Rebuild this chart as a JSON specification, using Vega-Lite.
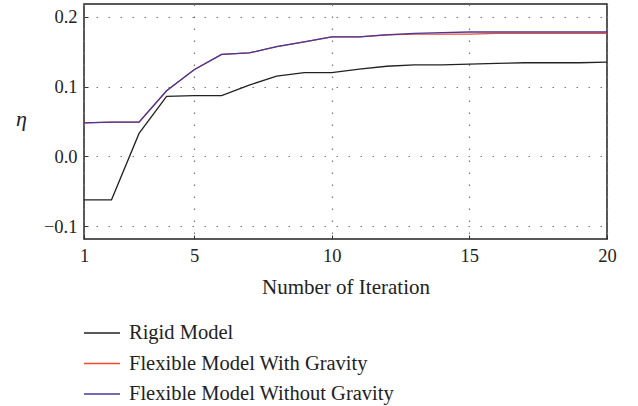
{
  "$schema": "https://vega.github.io/schema/vega-lite/v6.json",
  "width": 523,
  "height": 235,
  "autosize": {"type": "none"},
  "padding": {"left": 84, "top": 4, "right": 31, "bottom": 167},
  "background": "white",
  "config": {
    "font": "Liberation Serif",
    "view": {"stroke": "#222", "strokeWidth": 1.5}
  },
  "data": {
    "values": [
      {"iter": 1, "eta": -0.062, "model": "Rigid Model"},
      {"iter": 2, "eta": -0.062, "model": "Rigid Model"},
      {"iter": 3, "eta": 0.033, "model": "Rigid Model"},
      {"iter": 4, "eta": 0.086, "model": "Rigid Model"},
      {"iter": 5, "eta": 0.087, "model": "Rigid Model"},
      {"iter": 6, "eta": 0.087, "model": "Rigid Model"},
      {"iter": 7, "eta": 0.102, "model": "Rigid Model"},
      {"iter": 8, "eta": 0.115, "model": "Rigid Model"},
      {"iter": 9, "eta": 0.120, "model": "Rigid Model"},
      {"iter": 10, "eta": 0.120, "model": "Rigid Model"},
      {"iter": 11, "eta": 0.125, "model": "Rigid Model"},
      {"iter": 12, "eta": 0.129, "model": "Rigid Model"},
      {"iter": 13, "eta": 0.131, "model": "Rigid Model"},
      {"iter": 14, "eta": 0.131, "model": "Rigid Model"},
      {"iter": 15, "eta": 0.132, "model": "Rigid Model"},
      {"iter": 16, "eta": 0.133, "model": "Rigid Model"},
      {"iter": 17, "eta": 0.134, "model": "Rigid Model"},
      {"iter": 18, "eta": 0.134, "model": "Rigid Model"},
      {"iter": 19, "eta": 0.134, "model": "Rigid Model"},
      {"iter": 20, "eta": 0.135, "model": "Rigid Model"},
      {"iter": 1, "eta": 0.048, "model": "Flexible Model With Gravity"},
      {"iter": 2, "eta": 0.049, "model": "Flexible Model With Gravity"},
      {"iter": 3, "eta": 0.049, "model": "Flexible Model With Gravity"},
      {"iter": 4, "eta": 0.094, "model": "Flexible Model With Gravity"},
      {"iter": 5, "eta": 0.124, "model": "Flexible Model With Gravity"},
      {"iter": 6, "eta": 0.146, "model": "Flexible Model With Gravity"},
      {"iter": 7, "eta": 0.148, "model": "Flexible Model With Gravity"},
      {"iter": 8, "eta": 0.157, "model": "Flexible Model With Gravity"},
      {"iter": 9, "eta": 0.164, "model": "Flexible Model With Gravity"},
      {"iter": 10, "eta": 0.171, "model": "Flexible Model With Gravity"},
      {"iter": 11, "eta": 0.171, "model": "Flexible Model With Gravity"},
      {"iter": 12, "eta": 0.174, "model": "Flexible Model With Gravity"},
      {"iter": 13, "eta": 0.175, "model": "Flexible Model With Gravity"},
      {"iter": 14, "eta": 0.175, "model": "Flexible Model With Gravity"},
      {"iter": 15, "eta": 0.175, "model": "Flexible Model With Gravity"},
      {"iter": 16, "eta": 0.176, "model": "Flexible Model With Gravity"},
      {"iter": 17, "eta": 0.176, "model": "Flexible Model With Gravity"},
      {"iter": 18, "eta": 0.176, "model": "Flexible Model With Gravity"},
      {"iter": 19, "eta": 0.176, "model": "Flexible Model With Gravity"},
      {"iter": 20, "eta": 0.176, "model": "Flexible Model With Gravity"},
      {"iter": 1, "eta": 0.048, "model": "Flexible Model Without Gravity"},
      {"iter": 2, "eta": 0.049, "model": "Flexible Model Without Gravity"},
      {"iter": 3, "eta": 0.049, "model": "Flexible Model Without Gravity"},
      {"iter": 4, "eta": 0.094, "model": "Flexible Model Without Gravity"},
      {"iter": 5, "eta": 0.124, "model": "Flexible Model Without Gravity"},
      {"iter": 6, "eta": 0.146, "model": "Flexible Model Without Gravity"},
      {"iter": 7, "eta": 0.148, "model": "Flexible Model Without Gravity"},
      {"iter": 8, "eta": 0.157, "model": "Flexible Model Without Gravity"},
      {"iter": 9, "eta": 0.164, "model": "Flexible Model Without Gravity"},
      {"iter": 10, "eta": 0.171, "model": "Flexible Model Without Gravity"},
      {"iter": 11, "eta": 0.171, "model": "Flexible Model Without Gravity"},
      {"iter": 12, "eta": 0.174, "model": "Flexible Model Without Gravity"},
      {"iter": 13, "eta": 0.176, "model": "Flexible Model Without Gravity"},
      {"iter": 14, "eta": 0.177, "model": "Flexible Model Without Gravity"},
      {"iter": 15, "eta": 0.178, "model": "Flexible Model Without Gravity"},
      {"iter": 16, "eta": 0.178, "model": "Flexible Model Without Gravity"},
      {"iter": 17, "eta": 0.178, "model": "Flexible Model Without Gravity"},
      {"iter": 18, "eta": 0.178, "model": "Flexible Model Without Gravity"},
      {"iter": 19, "eta": 0.178, "model": "Flexible Model Without Gravity"},
      {"iter": 20, "eta": 0.178, "model": "Flexible Model Without Gravity"}
    ]
  },
  "mark": {"type": "line", "strokeWidth": 1.3},
  "encoding": {
    "x": {
      "field": "iter",
      "type": "quantitative",
      "scale": {"domain": [1, 20], "nice": false, "zero": false},
      "axis": {
        "values": [1, 5, 10, 15, 20],
        "title": "Number of Iteration",
        "labelFont": "Liberation Serif",
        "titleFont": "Liberation Serif",
        "labelFontSize": 18.5,
        "titleFontSize": 21,
        "titleFontWeight": "normal",
        "labelColor": "#222",
        "titleColor": "#222",
        "domain": false,
        "tickColor": "#333",
        "tickSize": -4,
        "gridColor": "#777",
        "gridDash": [1.5, 10.5],
        "gridWidth": 1.2,
        "labelPadding": 11,
        "titlePadding": 12,
        "labelFlush": false
      }
    },
    "y": {
      "field": "eta",
      "type": "quantitative",
      "scale": {"domain": [-0.118, 0.218], "nice": false, "zero": false},
      "axis": {
        "values": [-0.1, 0, 0.1, 0.2],
        "format": ".1f",
        "title": "η",
        "labelFont": "Liberation Serif",
        "titleFont": "Liberation Serif",
        "labelFontSize": 18.5,
        "labelColor": "#222",
        "titleColor": "#222",
        "titleFontWeight": "normal",
        "domain": false,
        "tickColor": "#333",
        "tickSize": -4,
        "gridColor": "#777",
        "gridDash": [1.5, 10.5],
        "gridWidth": 1.2,
        "titleAngle": 0,
        "titleFontStyle": "italic",
        "titleFontSize": 22,
        "titleX": -63,
        "titleY": 126,
        "titleAlign": "center",
        "labelPadding": 11
      }
    },
    "color": {
      "field": "model",
      "type": "nominal",
      "scale": {
        "domain": ["Rigid Model", "Flexible Model With Gravity", "Flexible Model Without Gravity"],
        "range": ["#222222", "#ee4a2e", "#43389f"]
      },
      "legend": {
        "title": null,
        "orient": "none",
        "legendX": -1,
        "legendY": 319,
        "direction": "vertical",
        "symbolType": "stroke",
        "symbolSize": 1296,
        "symbolStrokeWidth": 1.5,
        "clipHeight": 20,
        "rowPadding": 9.5,
        "labelOffset": 8,
        "labelFontSize": 20.5,
        "labelLimit": 500,
        "labelFont": "Liberation Serif",
        "labelColor": "#222",
        "padding": 0
      }
    },
    "order": {"field": "model", "sort": "descending"}
  }
}
